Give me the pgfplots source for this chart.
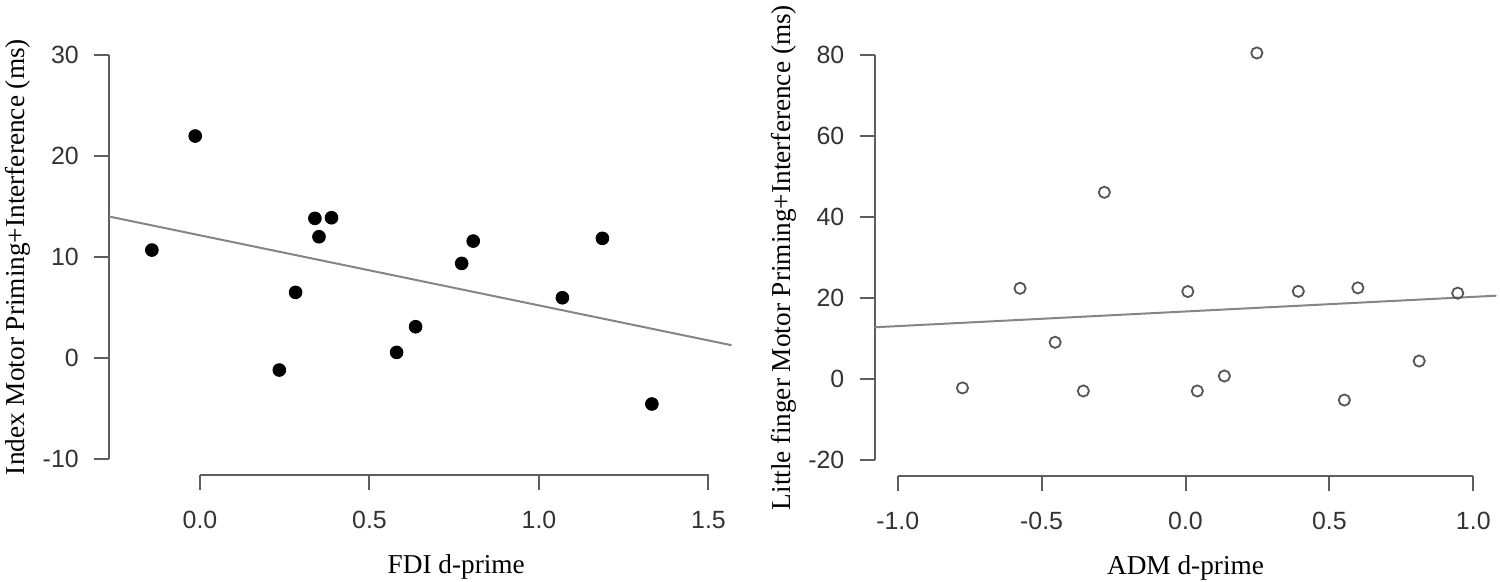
\documentclass[border=0pt]{standalone}
\usepackage{fontspec}
\setmainfont{Liberation Serif}
\newfontfamily\arialfont{Liberation Sans}
\usepackage{pgfplots}
\pgfplotsset{compat=1.18}
\definecolor{axgray}{HTML}{5E5E5E}
\definecolor{fitgray}{HTML}{858585}
\definecolor{tickgray}{HTML}{333333}
\definecolor{circgray}{HTML}{555555}

\pgfplotsset{rstyle/.style={
  scale only axis,
  axis x line*=bottom, axis y line*=left,
  axis line style={-, line width=1bp, color=axgray},
  tick align=outside, major tick length=7.5bp,
  tick style={line width=1bp, color=axgray},
  minor tick num=0,
  ticklabel style={font=\arialfont\fontsize{12.5}{14}\selectfont, text=tickgray, inner sep=0pt},
  xticklabel style={anchor=north, yshift=-10.5bp},
  yticklabel style={anchor=east, xshift=-7.5bp},
  clip=false,
}}

\begin{document}
\begin{tikzpicture}
\useasboundingbox (0,0) rectangle (750bp,291bp);

% ---------------- Left panel ----------------
\begin{axis}[rstyle,
  at={(54.57bp,53.4bp)}, anchor=south west,
  width=311.2bp, height=218.16bp,
  xmin=-0.268, xmax=1.568, ymin=-11.6, ymax=31.6,
  xtick={0,0.5,1,1.5}, xticklabels={0.0,0.5,1.0,1.5},
  ytick={-10,0,10,20,30}, yticklabels={-10,0,10,20,30},
  x axis line style={shorten <=45.4bp, shorten >=11.5bp},
  y axis line style={shorten <=8.08bp, shorten >=8.08bp},
  xlabel={FDI d-prime},
  ylabel={Index Motor Priming+Interference (ms)},
  every axis x label/.style={at={(axis description cs:0.5577,-0.2264)}, anchor=base, font=\fontsize{13.7}{16}\selectfont},
  every axis y label/.style={at={(axis description cs:-0.1352,0.5)}, anchor=base, rotate=90, font=\fontsize{13.7}{16}\selectfont},
]
\addplot[fitgray, line width=1bp] coordinates {(-0.268,14.01) (1.568,1.27)};
\addplot[only marks, mark=*, mark size=3.2bp, black] table {
x y
-0.142 10.69
-0.014 21.98
0.234 -1.19
0.282 6.50
0.339 13.83
0.351 12.01
0.388 13.89
0.580 0.56
0.636 3.10
0.772 9.37
0.806 11.58
1.069 5.97
1.187 11.85
1.333 -4.55
};
\end{axis}

% ---------------- Right panel ----------------
\begin{axis}[rstyle,
  at={(437.35bp,52.9bp)}, anchor=south west,
  width=310.8bp, height=218.7bp,
  xmin=-1.08, xmax=1.08, ymin=-24, ymax=84,
  xtick={-1,-0.5,0,0.5,1}, xticklabels={-1.0,-0.5,0.0,0.5,1.0},
  ytick={-20,0,20,40,60,80}, yticklabels={-20,0,20,40,60,80},
  x axis line style={shorten <=11.5bp, shorten >=11.5bp},
  y axis line style={shorten <=8.1bp, shorten >=8.1bp},
  xlabel={ADM d-prime},
  ylabel={Little finger Motor Priming+Interference (ms)},
  every axis x label/.style={at={(axis description cs:0.5,-0.2236)}, anchor=base, font=\fontsize{13.7}{16}\selectfont},
  every axis y label/.style={at={(axis description cs:-0.1347,0.5)}, anchor=base, rotate=90, font=\fontsize{13.7}{16}\selectfont},
]
\addplot[fitgray, line width=1bp] coordinates {(-1.08,12.77) (1.08,20.57)};
\addplot[only marks, mark=o, mark size=2.8bp, circgray, mark options={line width=0.9bp}] table {
x y
-0.775 -2.2
-0.575 22.4
-0.453 9.06
-0.355 -2.96
-0.282 46.1
0.008 21.6
0.041 -2.96
0.135 0.74
0.248 80.5
0.392 21.65
0.552 -5.2
0.599 22.5
0.812 4.44
0.946 21.2
};
\end{axis}
\end{tikzpicture}
\end{document}
